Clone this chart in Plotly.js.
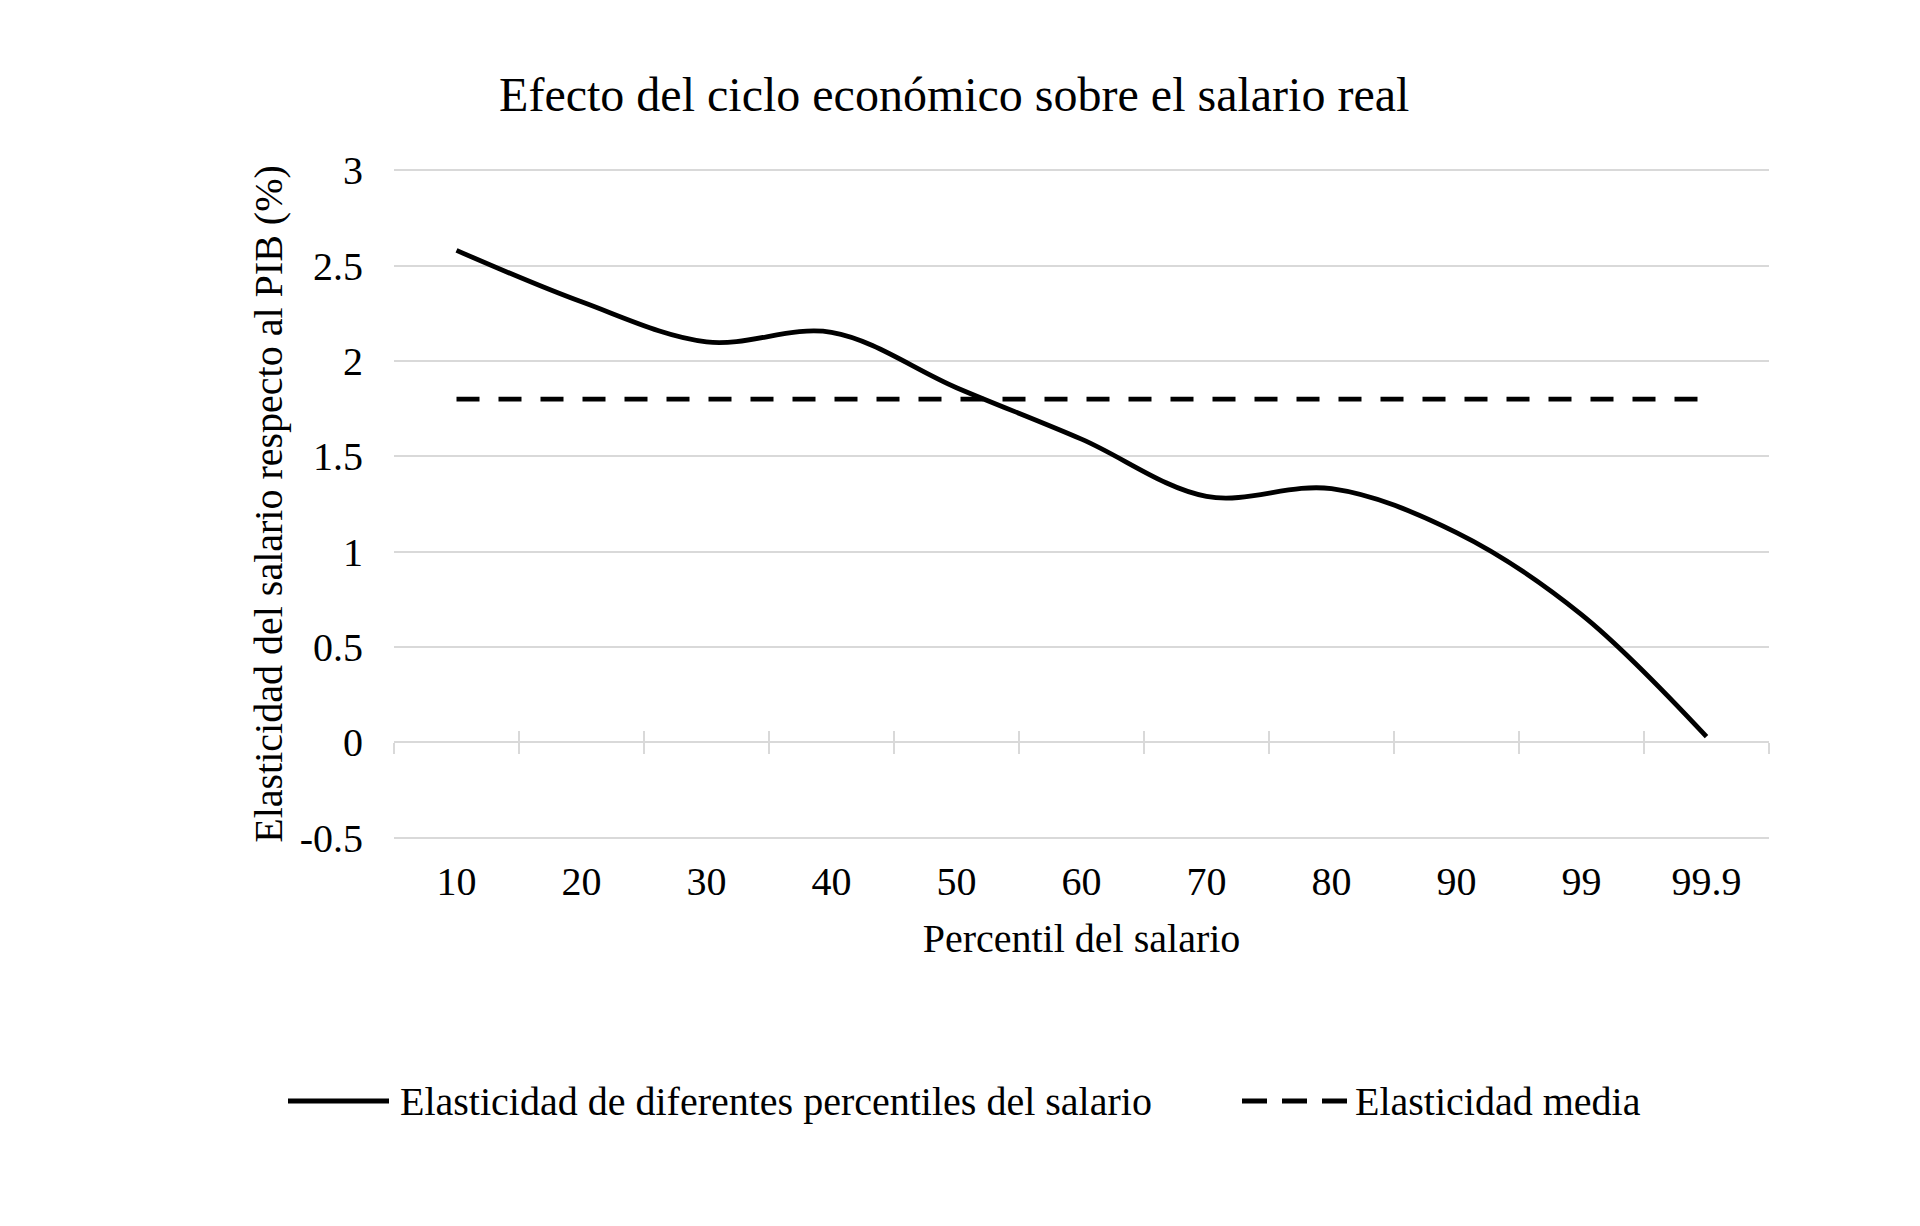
<!DOCTYPE html>
<html>
<head>
<meta charset="utf-8">
<script src="https://cdn.plot.ly/plotly-3.0.1.min.js"></script>
<style>html,body{margin:0;padding:0;background:#fff;}#chart{width:1920px;height:1226px;}</style>
</head>
<body>
<div id="chart"></div>
<script>
const categories = ['10', '20', '30', '40', '50', '60', '70', '80', '90', '99', '99.9'];
const elasticidadPercentiles = [2.58, 2.31, 2.10, 2.15, 1.86, 1.59, 1.29, 1.33, 1.10, 0.67, 0.03];
const elasticidadMedia = [1.8, 1.8, 1.8, 1.8, 1.8, 1.8, 1.8, 1.8, 1.8, 1.8, 1.8];
const seriesNames = ['Elasticidad de diferentes percentiles del salario', 'Elasticidad media'];
const yTickVals = [-0.5, 0, 0.5, 1, 1.5, 2, 2.5, 3];
const yTickText = ['-0.5', '0', '0.5', '1', '1.5', '2', '2.5', '3'];
const titleText = 'Efecto del ciclo económico sobre el salario real';
const xTitle = 'Percentil del salario';
const yTitle = 'Elasticidad del salario respecto al PIB (%)';

const FONT = 'Liberation Serif, Times New Roman, serif';
const GRID = '#d9d9d9';
const W = 1920, H = 1226;

// y range padded slightly so the edge gridlines (-0.5 and 3) are drawn
const yPad = 0.012;
const yRange = [yTickVals[0] - yPad, yTickVals[yTickVals.length - 1] + yPad];
const M = {l: 394, r: 151, t: 168, b: 386};

// category boundaries for the tick marks on the y=0 axis line
const boundaries = [];
for (let i = 0; i <= categories.length; i++) boundaries.push(i - 0.5);
const boundaryZeros = boundaries.map(() => 0);

const axisZeroPos = (0 - yRange[0]) / (yRange[1] - yRange[0]);

// legend helpers (pixel -> paper)
const px = x => (x - M.l) / (W - M.l - M.r);
const py = y => (H - M.b - y) / (H - M.t - M.b);

const traces = [
  {
    x: categories, y: elasticidadPercentiles, name: seriesNames[0],
    type: 'scatter', mode: 'lines',
    line: {color: '#000', width: 4.8, shape: 'spline', smoothing: 1},
    showlegend: false
  },
  {
    x: categories, y: elasticidadMedia, name: seriesNames[1],
    type: 'scatter', mode: 'lines',
    line: {color: '#000', width: 4.8, dash: '23px,19px'},
    showlegend: false
  },
  {
    x: boundaries, y: boundaryZeros, xaxis: 'x2', yaxis: 'y',
    type: 'scatter', mode: 'none', showlegend: false, hoverinfo: 'skip'
  },
  {
    x: boundaries, y: boundaryZeros, xaxis: 'x3', yaxis: 'y',
    type: 'scatter', mode: 'none', showlegend: false, hoverinfo: 'skip'
  }
];

const legendY = 1101;
const layout = {
  width: W, height: H,
  paper_bgcolor: '#fff', plot_bgcolor: '#fff',
  font: {family: FONT, size: 40, color: '#000'},
  margin: {l: M.l, r: M.r, t: M.t, b: M.b, pad: 0},
  title: {
    text: titleText, font: {family: FONT, size: 48, color: '#000'},
    xref: 'container', x: 0.497, xanchor: 'center',
    yref: 'container', y: 1 - 94 / H, yanchor: 'middle'
  },
  showlegend: false,
  shapes: [
    {type: 'line', xref: 'paper', yref: 'paper', x0: px(288), x1: px(389), y0: py(legendY), y1: py(legendY),
     line: {color: '#000', width: 5}},
    {type: 'line', xref: 'paper', yref: 'paper', x0: px(1242), x1: px(1347), y0: py(legendY), y1: py(legendY),
     line: {color: '#000', width: 5, dash: '25px,15px'}}
  ],
  annotations: [
    {text: seriesNames[0], xref: 'paper', yref: 'paper', x: px(398), y: py(legendY),
     xanchor: 'left', yanchor: 'middle', showarrow: false, font: {family: FONT, size: 40, color: '#000'}},
    {text: seriesNames[1], xref: 'paper', yref: 'paper', x: px(1353), y: py(legendY),
     xanchor: 'left', yanchor: 'middle', showarrow: false, font: {family: FONT, size: 40, color: '#000'}}
  ],
  xaxis: {
    type: 'category', categoryorder: 'array', categoryarray: categories,
    range: [-0.5, categories.length - 0.5],
    showgrid: false, zeroline: false, showline: false, ticks: '',
    tickfont: {family: FONT, size: 40, color: '#000'},
    ticklabelstandoff: 14,
    title: {text: xTitle, font: {family: FONT, size: 40, color: '#000'}, standoff: 20},
    fixedrange: true
  },
  xaxis2: {
    overlaying: 'x', anchor: 'free', position: axisZeroPos,
    range: [-0.5, categories.length - 0.5], type: 'linear',
    showline: true, linecolor: GRID, linewidth: 2,
    ticks: 'outside', ticklen: 11, tickwidth: 2, tickcolor: GRID,
    tickmode: 'array', tickvals: boundaries, showticklabels: false,
    showgrid: false, zeroline: false, fixedrange: true
  },
  xaxis3: {
    overlaying: 'x', anchor: 'free', position: axisZeroPos,
    range: [-0.5, categories.length - 0.5], type: 'linear',
    showline: false,
    ticks: 'inside', ticklen: 11, tickwidth: 2, tickcolor: GRID,
    tickmode: 'array', tickvals: boundaries, showticklabels: false,
    showgrid: false, zeroline: false, fixedrange: true
  },
  yaxis: {
    range: yRange,
    tickmode: 'array', tickvals: yTickVals, ticktext: yTickText,
    showgrid: true, gridcolor: GRID, gridwidth: 2,
    zeroline: false, showline: false, ticks: '',
    tickfont: {family: FONT, size: 40, color: '#000'},
    ticklabelstandoff: 30,
    title: {text: yTitle, font: {family: FONT, size: 40, color: '#000'}, standoff: 4},
    fixedrange: true
  }
};

Plotly.newPlot('chart', traces, layout, {displayModeBar: false, staticPlot: true});
</script>
</body>
</html>
